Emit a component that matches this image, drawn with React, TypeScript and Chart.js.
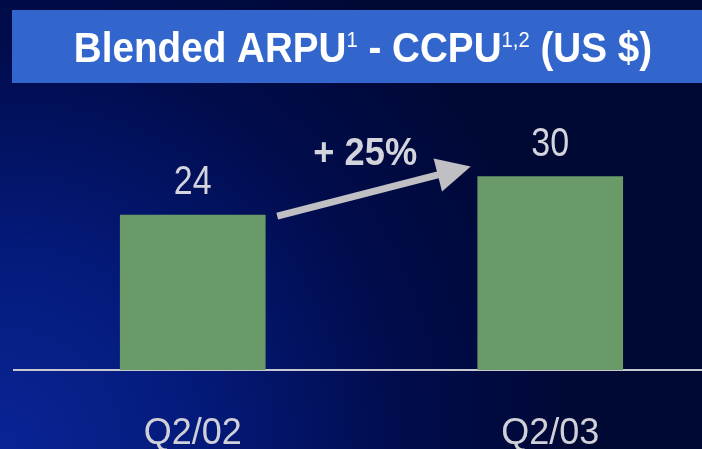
import React, { useEffect, useRef } from 'react';
import { Chart, registerables } from 'chart.js';

Chart.register(...registerables);

// ---- data ----
const categories = ['Q2/02', 'Q2/03'];
const values = [24, 30];
const growthLabel = '+ 25%';
const titleParts = [
  { text: 'Blended ARPU', sup: false },
  { text: '1', sup: true },
  { text: ' - CCPU', sup: false },
  { text: '1,2', sup: true },
  { text: ' (US $)', sup: false },
];

const FONT = '"Liberation Sans", Arial, sans-serif';

function drawScaled(ctx: any, text: string, x: number, y: number, sx: number) {
  ctx.save();
  ctx.translate(x, y);
  ctx.scale(sx, 1);
  ctx.fillText(text, 0, 0);
  ctx.restore();
}

const backgroundPlugin = {
  id: 'bgTitle',
  beforeDraw(chart: any) {
    const { ctx, width, height } = chart;
    ctx.save();
    const g = ctx.createRadialGradient(0, height, 0, 0, height, 580);
    g.addColorStop(0, '#0a2496');
    g.addColorStop(0.35, '#041a7a');
    g.addColorStop(0.7, '#010c4c');
    g.addColorStop(1, '#000834');
    ctx.fillStyle = g;
    ctx.fillRect(0, 0, width, height);

    // title bar
    ctx.fillStyle = '#3366cc';
    ctx.fillRect(12, 10, width - 12, 73);

    // title text with superscripts (slightly condensed)
    const sx = 0.92;
    const mainFont = `bold 42px ${FONT}`;
    const supFont = `22px ${FONT}`;
    let total = 0;
    for (const p of titleParts) {
      ctx.font = p.sup ? supFont : mainFont;
      total += ctx.measureText(p.text).width * sx;
    }
    let x = width * 0.517 - total / 2;
    const baseY = 62;
    ctx.fillStyle = '#ffffff';
    ctx.textAlign = 'left';
    ctx.textBaseline = 'alphabetic';
    for (const p of titleParts) {
      ctx.font = p.sup ? supFont : mainFont;
      drawScaled(ctx, p.text, x, p.sup ? baseY - 15 : baseY, sx);
      x += ctx.measureText(p.text).width * sx;
    }
    ctx.restore();
  },
};

const annotatePlugin = {
  id: 'annotate',
  afterDatasetsDraw(chart: any) {
    const { ctx } = chart;
    const meta = chart.getDatasetMeta(0);
    const b0 = meta.data[0] as any;
    const b1 = meta.data[1] as any;
    ctx.save();
    // value labels
    ctx.fillStyle = '#d4d4dc';
    ctx.font = `40px ${FONT}`;
    ctx.textAlign = 'center';
    ctx.textBaseline = 'alphabetic';
    meta.data.forEach((el: any, i: number) => {
      drawScaled(ctx, String(values[i]), el.x, el.y - 21, 0.85);
    });

    // arrow
    const sx = b0.x + b0.width / 2 + 12;
    const sy = b0.y + 1;
    const tx = b1.x - b1.width / 2 - 7;
    const ty = b1.y - 10;
    const ang = Math.atan2(ty - sy, tx - sx);
    const c = Math.cos(ang);
    const s = Math.sin(ang);
    const headLen = 34;
    const headHalf = 17;
    const bx = tx - headLen * c;
    const by = ty - headLen * s;
    ctx.strokeStyle = '#c0c0c4';
    ctx.fillStyle = '#c0c0c4';
    ctx.lineWidth = 7;
    ctx.lineCap = 'butt';
    ctx.beginPath();
    ctx.moveTo(sx, sy);
    ctx.lineTo(bx + 2 * c, by + 2 * s);
    ctx.stroke();
    ctx.beginPath();
    ctx.moveTo(tx, ty);
    ctx.lineTo(bx - headHalf * s, by + headHalf * c);
    ctx.lineTo(bx + headHalf * s, by - headHalf * c);
    ctx.closePath();
    ctx.fill();

    // growth label
    ctx.fillStyle = '#d4d4dc';
    ctx.font = `bold 39px ${FONT}`;
    drawScaled(ctx, growthLabel, sx + 88, sy - 51, 0.93);
    ctx.restore();
  },
};

export default function App() {
  const ref = useRef<HTMLCanvasElement>(null);
  useEffect(() => {
    const chart = new Chart(ref.current as HTMLCanvasElement, {
      type: 'bar',
      data: {
        datasets: [
          {
            data: categories.map((c, i) => ({ x: i, y: values[i] })) as any,
            backgroundColor: '#6a9a68',
            borderWidth: 0,
            barThickness: 145,
          },
        ],
      },
      options: {
        animation: false,
        responsive: true,
        maintainAspectRatio: false,
        layout: { padding: { top: 112, left: 14, right: 0, bottom: 0 } },
        plugins: {
          legend: { display: false },
          tooltip: { enabled: false },
          title: { display: false },
        },
        scales: {
          x: {
            type: 'linear',
            offset: false,
            min: -0.5,
            max: 1.4245,
            grid: { display: false, offset: false },
            border: { display: true, color: '#c8c8d0', width: 2 },
            afterBuildTicks: (scale: any) => {
              scale.ticks = categories.map((_, i) => ({ value: i }));
            },
            afterFit: (scale: any) => {
              scale.height = 79;
            },
            ticks: {
              color: '#d0d0d8',
              font: { family: FONT, size: 36 },
              padding: 34,
              autoSkip: false,
              maxRotation: 0,
              callback: (v: any) => categories[v] ?? '',
            },
          },
          y: {
            display: false,
            min: 0,
            max: 40,
          },
        },
      },
      plugins: [backgroundPlugin, annotatePlugin],
    });
    return () => chart.destroy();
  }, []);
  return (
    <div style={{ position: 'fixed', left: 0, top: 0, width: 702, height: 449 }}>
      <canvas ref={ref} />
    </div>
  );
}
